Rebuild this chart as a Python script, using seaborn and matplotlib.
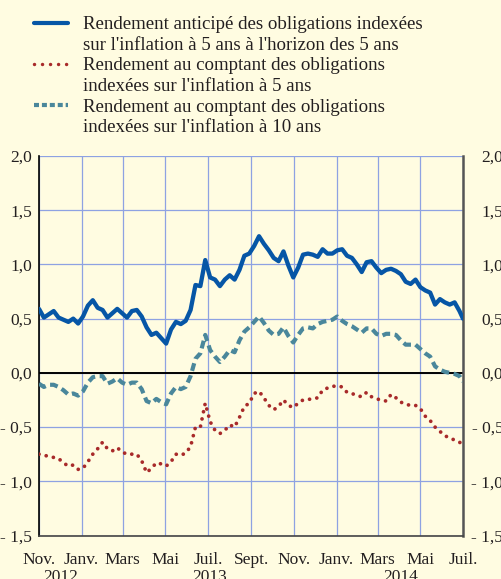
import numpy as np
import pandas as pd
import matplotlib
matplotlib.use("Agg")
import matplotlib.pyplot as plt
import matplotlib.dates as mdates
from matplotlib.lines import Line2D
from matplotlib.ticker import FuncFormatter
import seaborn as sns

# ---------------- data (weekly) ----------------
start_date = "2012-11-01"
end_date = "2014-07-01"

anticipe_5a5 = [0.59, 0.51, 0.54, 0.57, 0.51, 0.49, 0.47, 0.50, 0.455, 0.52,
                0.62, 0.67, 0.60, 0.58, 0.51, 0.55, 0.59, 0.55, 0.51, 0.57,
                0.58, 0.52, 0.42, 0.35, 0.37, 0.32, 0.27, 0.40, 0.47, 0.45,
                0.48, 0.58, 0.81, 0.80, 1.04, 0.88, 0.86, 0.80, 0.86, 0.90,
                0.86, 0.95, 1.08, 1.10, 1.17, 1.26, 1.19, 1.13, 1.06, 1.03,
                1.12, 0.99, 0.88, 0.97, 1.09, 1.10, 1.09, 1.07, 1.14, 1.10,
                1.10, 1.13, 1.14, 1.08, 1.06, 1.00, 0.93, 1.02, 1.03, 0.97,
                0.92, 0.95, 0.96, 0.94, 0.91, 0.84, 0.82, 0.86, 0.79, 0.76,
                0.74, 0.63, 0.68, 0.65, 0.63, 0.65, 0.57, 0.50]

comptant_5 = [-0.75, -0.76, -0.77, -0.78, -0.79, -0.83, -0.86, -0.85, -0.89, -0.88,
              -0.82, -0.75, -0.70, -0.64, -0.70, -0.72, -0.69, -0.73, -0.75, -0.75,
              -0.75, -0.81, -0.92, -0.88, -0.83, -0.84, -0.86, -0.82, -0.75, -0.76,
              -0.74, -0.68, -0.50, -0.50, -0.28, -0.45, -0.53, -0.56, -0.53, -0.48,
              -0.50, -0.41, -0.31, -0.28, -0.19, -0.17, -0.23, -0.30, -0.34, -0.31,
              -0.25, -0.30, -0.32, -0.28, -0.25, -0.245, -0.24, -0.23, -0.16, -0.14,
              -0.125, -0.12, -0.13, -0.18, -0.19, -0.21, -0.22, -0.18, -0.22, -0.24,
              -0.25, -0.26, -0.20, -0.23, -0.27, -0.29, -0.30, -0.30, -0.33, -0.40,
              -0.44, -0.50, -0.54, -0.58, -0.60, -0.62, -0.64, -0.66]

comptant_10 = [-0.10, -0.13, -0.11, -0.11, -0.13, -0.16, -0.20, -0.19, -0.21, -0.17,
               -0.09, -0.04, -0.03, -0.03, -0.10, -0.08, -0.05, -0.09, -0.11, -0.09,
               -0.09, -0.15, -0.26, -0.28, -0.24, -0.27, -0.29, -0.19, -0.13, -0.15,
               -0.13, -0.03, 0.13, 0.18, 0.35, 0.21, 0.15, 0.10, 0.15, 0.21,
               0.19, 0.30, 0.38, 0.42, 0.47, 0.52, 0.46, 0.39, 0.35, 0.36,
               0.42, 0.34, 0.28, 0.35, 0.41, 0.42, 0.41, 0.45, 0.47, 0.48,
               0.49, 0.52, 0.48, 0.45, 0.43, 0.40, 0.37, 0.41, 0.41, 0.36,
               0.34, 0.36, 0.36, 0.35, 0.30, 0.26, 0.26, 0.26, 0.22, 0.18,
               0.15, 0.06, 0.03, 0.01, 0.00, -0.01, -0.03, -0.08]

series_labels = [
    "Rendement anticipé des obligations indexées",
    "sur l'inflation à 5 ans à l'horizon des 5 ans",
    "Rendement au comptant des obligations",
    "indexées sur l'inflation à 5 ans",
    "Rendement au comptant des obligations",
    "indexées sur l'inflation à 10 ans",
]

y_ticks = [2.0, 1.5, 1.0, 0.5, 0.0, -0.5, -1.0, -1.5]
y_ticklabels = ["2,0", "1,5", "1,0", "0,5", "0,0", "- 0,5", "- 1,0", "- 1,5"]
month_labels = {1: "Janv.", 3: "Mars", 5: "Mai", 7: "Juil.", 9: "Sept.", 11: "Nov."}
year_labels = ["2012", "2013", "2014"]
year_label_dates = ["2012-12-02", "2013-07-03", "2014-04-03"]

# ---------------- build frame ----------------
dates = list(pd.date_range(start_date, periods=len(anticipe_5a5) - 1, freq="7D")) + [pd.Timestamp(end_date)]
df = pd.DataFrame({"date": dates, "a5": anticipe_5a5, "c5": comptant_5, "c10": comptant_10})

# ---------------- style ----------------
BG = "#FFFCE1"
BLUE = "#0656A6"
RED = "#A82A2A"
TEAL = "#4A879B"
GRID = "#8EA2E2"
TXT = "#231F20"

sns.set_style("white")
plt.rcParams["font.family"] = ["Liberation Serif", "DejaVu Serif"]
plt.rcParams["text.color"] = TXT
plt.rcParams["xtick.color"] = "#444444"
plt.rcParams["xtick.labelcolor"] = TXT
plt.rcParams["ytick.labelcolor"] = TXT

fig = plt.figure(figsize=(5.02, 5.79), dpi=100, facecolor=BG)
ax = fig.add_axes([39 / 502, 1 - 535.5 / 579, (463 - 39) / 502, (535.5 - 156) / 579])
ax.set_facecolor(BG)

FS = 12.5
LFS = 13.6

# grid
ax.set_axisbelow(True)
ax.grid(True, which="major", color=GRID, lw=0.9)
ax.axhline(0, color="black", lw=1.4, zorder=1.6)

sns.lineplot(data=df, x="date", y="c10", ax=ax, color=TEAL, lw=3.0,
             linestyle=(0, (1.9, 1.1)), dash_capstyle="butt", zorder=3)
sns.lineplot(data=df, x="date", y="c5", ax=ax, color=RED, lw=2.7,
             linestyle=(0, (0.01, 1.95)), dash_capstyle="round", zorder=3)
sns.lineplot(data=df, x="date", y="a5", ax=ax, color=BLUE, lw=3.1, zorder=4)

ax.set_xlim(pd.Timestamp(start_date), pd.Timestamp(end_date))
ax.set_ylim(-1.5, 2.0)
ax.set_xlabel("")
ax.set_ylabel("")

# y axis
ax.set_yticks(y_ticks)
ax.set_yticklabels(y_ticklabels, fontsize=FS)
ax.tick_params(axis="y", length=0, pad=5)

# x axis
ax.xaxis.set_major_locator(mdates.MonthLocator(bymonth=[1, 3, 5, 7, 9, 11]))
ax.xaxis.set_major_formatter(FuncFormatter(lambda v, p: month_labels[mdates.num2date(v).month]))
ax.xaxis.set_minor_locator(mdates.MonthLocator(bymonth=1))
ax.xaxis.remove_overlapping_locs = False
ax.tick_params(axis="x", which="major", length=3, width=1.0, pad=9, labelsize=FS, direction="out")
ax.tick_params(axis="x", which="minor", length=10, width=1.0, direction="out")

for d, lab in zip(year_label_dates, year_labels):
    ax.text(pd.Timestamp(d), -0.088, lab, transform=ax.get_xaxis_transform(),
            ha="center", va="top", fontsize=FS, color=TXT)

# spines
ax.spines["top"].set_visible(False)
ax.spines["left"].set_color("black")
ax.spines["left"].set_linewidth(1.2)
ax.spines["right"].set_color("#555555")
ax.spines["right"].set_linewidth(1.8)
ax.spines["bottom"].set_color("#444444")
ax.spines["bottom"].set_linewidth(1.2)

# right-hand labels
tw = ax.twinx()
tw.set_ylim(-1.5, 2.0)
tw.set_yticks(y_ticks)
tw.set_yticklabels(y_ticklabels, fontsize=FS, ha="right")
tw.tick_params(axis="y", length=0, pad=29)
for s in tw.spines.values():
    s.set_visible(False)
tw.grid(False)

# legend
handles = [
    Line2D([], [], color=BLUE, lw=3.0),
    Line2D([], [], color="none"),
    Line2D([], [], color=RED, lw=2.5, linestyle=(0, (0.01, 2.3)), dash_capstyle="round"),
    Line2D([], [], color="none"),
    Line2D([], [], color=TEAL, lw=3.0, linestyle=(0, (1.2, 0.7))),
    Line2D([], [], color="none"),
]
fig.legend(handles, series_labels, loc="upper left", bbox_to_anchor=(34 / 502, 1 - 16 / 579),
           frameon=False, fontsize=LFS, handlelength=1.8, handletextpad=0.8,
           labelspacing=0.18, borderpad=0, borderaxespad=0)

fig.savefig("out.png", dpi=100, facecolor=BG)
